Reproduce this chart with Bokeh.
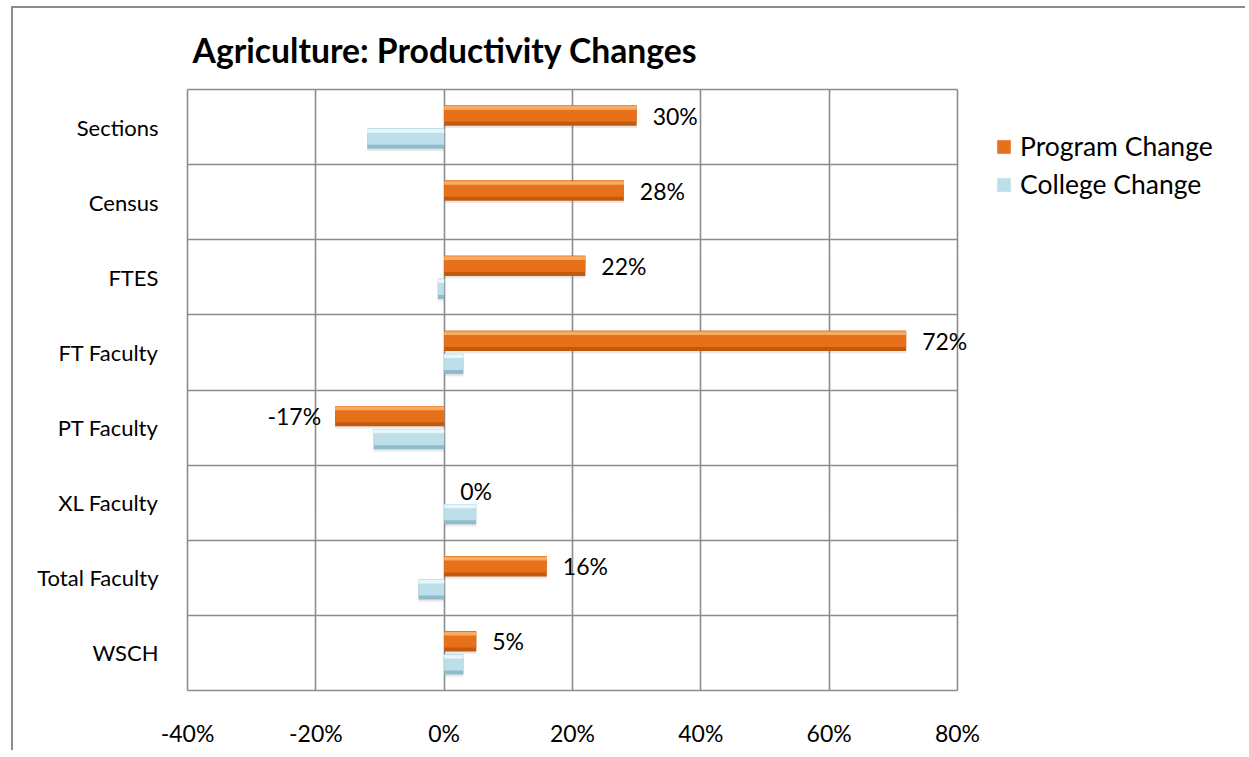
from bokeh.plotting import figure
from bokeh.models import ColumnDataSource, FixedTicker, Legend, LegendItem
from bokeh.transform import dodge
from bokeh.core.properties import value
from bokeh.embed import file_html
from bokeh.resources import INLINE

categories = ["Sections", "Census", "FTES", "FT Faculty", "PT Faculty",
              "XL Faculty", "Total Faculty", "WSCH"]
program_change = [30, 28, 22, 72, -17, 0, 16, 5]
college_change = [-12, 0, -1, 3, -11, 5, -4, 3]
x_ticks = [-40, -20, 0, 20, 40, 60, 80]
title_text = "Agriculture: Productivity Changes"
series_names = ["Program Change", "College Change"]

FONT = "Lato"
n = len(categories)
# y position: first category at top
ypos = [n - 1 - i + 0.5 for i in range(n)]

src = ColumnDataSource(dict(
    y=ypos,
    prog=program_change,
    coll=college_change,
    zero=[0] * n,
    lbl=[f"{v}%" for v in program_change],
    align=["right" if v < 0 else "left" for v in program_change],
    xoff=[-14 if v < 0 else 16 for v in program_change],
))

# layout geometry (pixels)
plot_w, plot_h = 770, 601          # drawn plot area
pad = 2                            # keep edge grid lines fully visible
extra_right = 288                  # room at right of plot area for the legend
ppx = plot_w / (x_ticks[-1] - x_ticks[0])
ppy = plot_h / n
x_start = x_ticks[0] - pad / ppx
x_end = x_ticks[-1] + extra_right / ppx
frame_w = plot_w + pad + extra_right
frame_h = plot_h + 2 * pad

p = figure(frame_width=frame_w, frame_height=frame_h,
           x_range=(x_start, x_end), y_range=(-pad / ppy, n + pad / ppy),
           output_backend="svg", toolbar_location=None,
           min_border_left=172, min_border_right=0,
           min_border_top=79, min_border_bottom=58,
           title=title_text)
p.margin = (6, 0, 0, 11)
p.styles = {"border-top": "2px solid #8c8c8c", "border-left": "2px solid #8c8c8c"}

p.title.text_font = FONT
p.title.text_font_style = "bold"
p.title.text_font_size = "33.7px"
p.title.offset = 7
p.title.standoff = 35
p.title.text_color = "#000000"

p.outline_line_color = None
p.background_fill_color = "white"
p.border_fill_color = "white"

# axes
p.xaxis.ticker = FixedTicker(ticks=x_ticks)
p.xaxis.major_label_overrides = {t: f"{t}%" for t in x_ticks}
p.yaxis.ticker = FixedTicker(ticks=ypos)
p.yaxis.major_label_overrides = {y: c for y, c in zip(ypos, categories)}
for ax in (p.xaxis[0], p.yaxis[0]):
    ax.axis_line_color = None
    ax.major_tick_line_color = None
    ax.minor_tick_line_color = None
    ax.major_label_text_font = FONT
    ax.major_label_text_color = "#000000"
p.xaxis.major_label_text_font_size = "23px"
p.yaxis.major_label_text_font_size = "22px"
p.xaxis.major_label_standoff = 20
p.yaxis.major_label_standoff = 21

p.xgrid.ticker = FixedTicker(ticks=x_ticks)
p.ygrid.ticker = FixedTicker(ticks=list(range(n + 1)))
p.xgrid.cross_bounds = (0, n)
p.ygrid.cross_bounds = (x_ticks[0], x_ticks[-1])
for g in (p.xgrid[0], p.ygrid[0]):
    g.grid_line_color = "#8c8c8c"
    g.grid_line_width = 1.6

bh = 0.27
off = 0.153

def bevel_bar(yoff, field, dark, mid, light):
    p.hbar(y=dodge("y", yoff - 0.03, range=p.y_range), left="zero", right=field,
           height=bh, source=src, fill_color="#7f7f7f", fill_alpha=0.18,
           line_color=None)
    p.hbar(y=dodge("y", yoff, range=p.y_range), left="zero", right=field,
           height=bh, source=src, fill_color=dark, line_color=None)
    body = p.hbar(y=dodge("y", yoff + bh * 0.1, range=p.y_range), left="zero",
                  right=field, height=bh * 0.8, source=src,
                  fill_color=mid, line_color=None)
    p.hbar(y=dodge("y", yoff + bh * 0.38, range=p.y_range), left="zero",
           right=field, height=bh * 0.18, source=src,
           fill_color=light, line_color=None)
    return body

r_prog = bevel_bar(off, "prog", "#C25A0C", "#E6711A", "#F8AC62")
r_coll = bevel_bar(-off, "coll", "#8FBCCA", "#BCDFE9", "#EAF7FA")

p.text(x="prog", y=dodge("y", off, range=p.y_range), text="lbl", source=src,
       text_align="align", x_offset="xoff", text_baseline="middle",
       text_font=value(FONT), text_font_size="23px", text_color="#000000")

legend = Legend(items=[LegendItem(label=series_names[0], renderers=[r_prog]),
                       LegendItem(label=series_names[1], renderers=[r_coll])],
                location=(plot_w + pad + 38, plot_h + pad - 41 - 70))
legend.label_text_font = FONT
legend.label_text_font_size = "26.5px"
legend.label_text_color = "#000000"
legend.glyph_width = 17
legend.glyph_height = 17
legend.label_height = 32
legend.spacing = 6
legend.label_standoff = 8
legend.margin = 0
legend.padding = 0
legend.border_line_color = None
legend.background_fill_alpha = 0
p.add_layout(legend, "center")

open("out.html", "w").write(file_html(p, INLINE))
